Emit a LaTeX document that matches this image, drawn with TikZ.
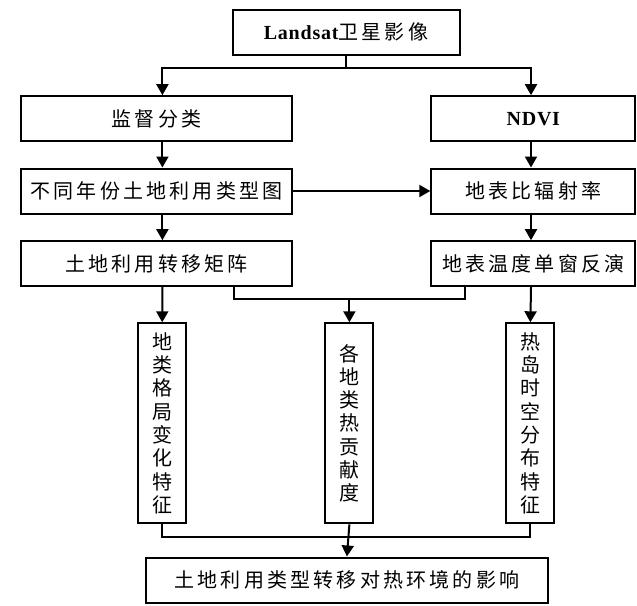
\documentclass[tikz,border=0pt]{standalone}
\usepackage{fontspec}
\setmainfont{Liberation Serif}
\newfontfamily\cjk[LetterSpace=16]{Noto Sans CJK SC}
\newfontfamily\cjkv{Noto Sans CJK SC}
\newfontfamily\lat[LetterSpace=4]{Liberation Serif}
\usetikzlibrary{arrows.meta}
\begin{document}
\begin{tikzpicture}[x=1pt,y=-1pt,
  box/.style={draw, line width=2pt, inner sep=0pt, font=\fontsize{20}{23.3}\selectfont},
  hbox/.style={box, minimum height=45pt},
  vbox/.style={box, minimum width=48pt, minimum height=200pt, align=center,
    font=\cjkv\fontsize{20}{23.3}\selectfont},
  conn/.style={line width=2pt},
  arr/.style={conn, -{Triangle[length=11pt,width=12pt]}}]
\useasboundingbox (0,0) rectangle (637,605);
\node[hbox, minimum width=227pt] (top) at (346,32.3) {{\lat\bfseries Landsat}{\cjk 卫星影像}};
\node[hbox, minimum width=271pt] (jd) at (156.4,118.7) {\cjk 监督分类};
\node[hbox, minimum width=271pt] (bt) at (156.4,191) {\cjk 不同年份土地利用类型图};
\node[hbox, minimum width=271pt] (jz) at (156.4,263.7) {\cjk 土地利用转移矩阵};
\node[hbox, minimum width=204pt] (nd) at (533.3,118.7) {\lat\bfseries NDVI};
\node[hbox, minimum width=204pt] (bl) at (533.3,191) {\cjk 地表比辐射率};
\node[hbox, minimum width=204pt] (wd) at (533.3,263.7) {\cjk 地表温度单窗反演};
\node[vbox] (v1) at (162.2,423.3) {地\\类\\格\\局\\变\\化\\特\\征};
\node[vbox] (v2) at (349.4,423.3) {各\\地\\类\\热\\贡\\献\\度};
\node[vbox] (v3) at (530.4,423.3) {热\\岛\\时\\空\\分\\布\\特\\征};
\node[hbox, minimum width=402pt] (fin) at (346.9,580) {\cjk 土地利用类型转移对热环境的影响};
\coordinate (jt) at (346,68.3);
\coordinate (jm) at (349.4,299.3);
\coordinate (jb) at (349.4,536.7);
\draw[conn] (top.south) -- (jt);
\draw[arr] (jt) -| ([xshift=6pt]jd.north);
\draw[arr] (jt) -| ([xshift=-2.3pt]nd.north);
\draw[arr] ([xshift=6pt]jd.south) -- ([xshift=6pt]bt.north);
\draw[arr] ([xshift=6pt]bt.south) -- ([xshift=6pt]jz.north);
\draw[arr] ([xshift=-2.3pt]nd.south) -- ([xshift=-2.3pt]bl.north);
\draw[arr] ([xshift=-2.3pt]bl.south) -- ([xshift=-2.3pt]wd.north);
\draw[arr] (bt.east) -- (bl.west);
\draw[conn] ([xshift=78pt]jz.south) |- (jm) -| ([xshift=-68.3pt]wd.south);
\draw[arr] ([xshift=6pt]jz.south) -- (v1.north);
\draw[arr] (jm) -- (v2.north);
\draw[arr] ([xshift=-2.3pt]wd.south) -- (v3.north);
\draw[conn] (v1.south) |- (jb);
\draw[conn] (v3.south) |- (jb);
\draw[arr] (v2.south) -- (fin.north);
\end{tikzpicture}
\end{document}
